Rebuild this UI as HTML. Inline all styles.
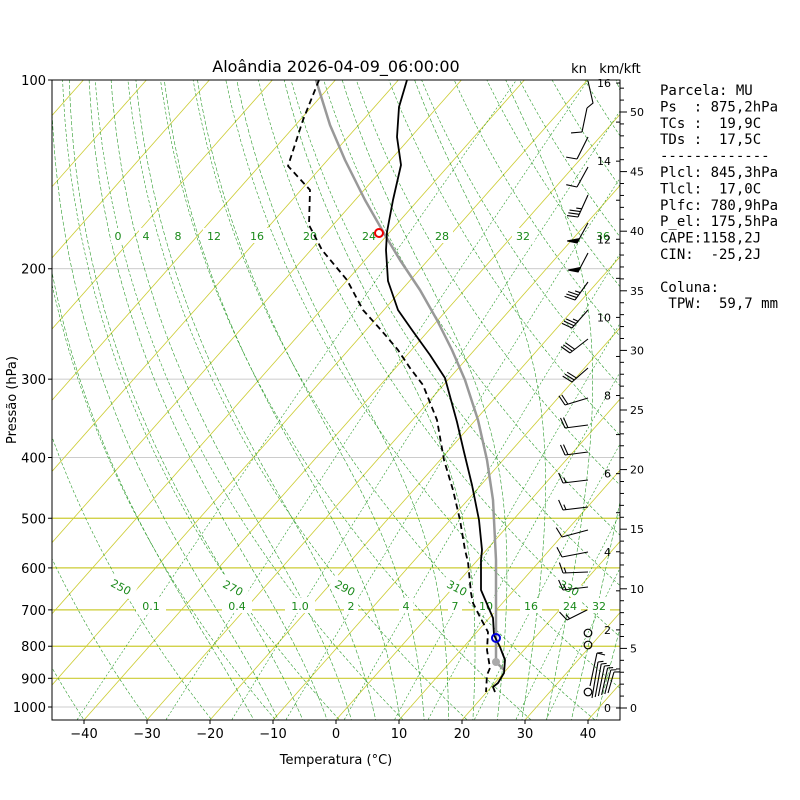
<!DOCTYPE html>
<html><head><meta charset="utf-8"><style>
html,body{margin:0;padding:0;background:#fff;width:800px;height:800px;overflow:hidden}
svg text{font-family:"DejaVu Sans","Liberation Sans",sans-serif}
</style></head><body>
<svg id="s" width="800" height="800" xmlns="http://www.w3.org/2000/svg">
<defs><clipPath id="c"><rect x="52" y="80" width="568" height="640"/></clipPath></defs>
<g id="bg" clip-path="url(#c)"></g>
<g id="lab" clip-path="url(#c)"></g>
<g id="snd" clip-path="url(#c)" fill="none" stroke-linejoin="round">
<polyline stroke="#999" stroke-width="2.5" points="316,80 330,125 345,160 365,200 385,235 400,260 420,290 437,320 452,350 465,380 478,420 487,460 493,500 496,560 496,660 498,664 504,670"/>
<circle cx="496" cy="662" r="4" fill="#aaa" stroke="none"/>
<polyline stroke="#000" stroke-width="1.8" points="407,80 399,107 397,137 401,165 393,200 387,232 386,250 388,281 398,310 412,330 430,355 445,378 457,422 464,452 472,485 479,520 482,550 481,560 481,590 493,618 494,635 500,647 505,660 504,673 498,683 493,687 495,692"/>
<polyline stroke="#000" stroke-width="1.8" stroke-dasharray="6,4" points="319,80 303,120 288,166 310,190 309,225 322,250 347,280 363,310 381,330 398,350 410,368 423,385 437,420 444,460 453,490 460,520 465,550 468,562 471,593 473,603 480,617 488,632 487,650 490,668 487,675 486,692"/>
<circle cx="379" cy="233" r="4" stroke="#e00" stroke-width="2"/>
<circle cx="496" cy="638" r="4" stroke="#00d" stroke-width="2"/>
</g>
<g id="barbs" stroke="#000" stroke-width="1.1" fill="none"></g>
<rect x="52" y="80" width="568" height="640" fill="none" stroke="#000" stroke-width="1"/>
<g id="ax" font-size="13" fill="#000"></g>
<text x="336" y="72" font-size="16" text-anchor="middle">Aloândia 2026-04-09_06:00:00</text>
<text x="579" y="73" font-size="13" text-anchor="middle">kn</text>
<text x="620" y="73" font-size="13" text-anchor="middle">km/kft</text>
<text x="336" y="764" font-size="13" text-anchor="middle">Temperatura (°C)</text>
<text transform="translate(16,400) rotate(-90)" font-size="13" text-anchor="middle">Pressão (hPa)</text>
<text x="660" y="95" font-size="14" style="font-family:'DejaVu Sans Mono','Liberation Mono',monospace;white-space:pre"><tspan x="660" dy="0">Parcela: MU</tspan><tspan x="660" dy="16.4">Ps  : 875,2hPa</tspan><tspan x="660" dy="16.4">TCs :  19,9C</tspan><tspan x="660" dy="16.4">TDs :  17,5C</tspan><tspan x="660" dy="16.4">-------------</tspan><tspan x="660" dy="16.4">Plcl: 845,3hPa</tspan><tspan x="660" dy="16.4">Tlcl:  17,0C</tspan><tspan x="660" dy="16.4">Plfc: 780,9hPa</tspan><tspan x="660" dy="16.4">P_el: 175,5hPa</tspan><tspan x="660" dy="16.4">CAPE:1158,2J</tspan><tspan x="660" dy="16.4">CIN:  -25,2J</tspan><tspan x="660" dy="32.8">Coluna:</tspan><tspan x="660" dy="16.4"> TPW:  59,7 mm</tspan></text>
</svg>
<script>
var NS="http://www.w3.org/2000/svg";
function Y(p){return 80+627*Math.log10(p/100);}
function X(T,p){return 336+6.3*T+0.885*(720-Y(p));}
function el(par,tag,a,txt){var e=document.createElementNS(NS,tag);for(var k in a)e.setAttribute(k,a[k]);if(txt!==undefined)e.textContent=txt;par.appendChild(e);return e;}
var bg=document.getElementById('bg'),lab=document.getElementById('lab'),ax=document.getElementById('ax'),bb=document.getElementById('barbs');
function pl(pts,a){a.points=pts.map(function(q){return q[0].toFixed(1)+','+q[1].toFixed(1)}).join(' ');a.fill='none';el(bg,'polyline',a);}
var ps=[];for(var p=1060;p>=95;p-=5)ps.push(p);
[100,200,300,400,1000].forEach(function(p){el(bg,'line',{x1:52,x2:620,y1:Y(p),y2:Y(p),stroke:'#bbb','stroke-width':0.8});});
[500,600,700,800,900].forEach(function(p){el(bg,'line',{x1:52,x2:620,y1:Y(p),y2:Y(p),stroke:'#cccc33','stroke-width':1.2});});
for(var T=-160;T<=50;T+=10){el(bg,'line',{x1:X(T,1060),y1:Y(1060),x2:X(T,95),y2:Y(95),stroke:'#cccc33','stroke-width':0.8});}
for(var th=220;th<=480;th+=10){pl(ps.map(function(p){return [X(th*Math.pow(p/1000,0.2857)-273.15,p),Y(p)]}),{stroke:'#2a9a2a','stroke-width':0.6,'stroke-dasharray':'3,2'});}
function es(tc){return 6.112*Math.exp(17.67*tc/(tc+243.5));}
function dTdp(T,p){var e=es(T-273.15),rs=0.622*e/(p-e),L=2.501e6,Rd=287.04,cp=1005.7;return (Rd*T+L*rs)/(p*(cp+L*L*rs*0.622/(Rd*T*T)));}
for(var tw=-16;tw<=40;tw+=4){var T=tw+273.15,p=1000,up=[[X(tw,1000),Y(1000)]];
 while(p>100){var dp=-5;T+=dTdp(T,p)*dp;p+=dp;up.push([X(T-273.15,p),Y(p)]);}
 T=tw+273.15;p=1000;var dn=[];while(p<1060){T+=dTdp(T,p)*5;p+=5;dn.unshift([X(T-273.15,p),Y(p)]);}
 pl(dn.concat(up),{stroke:'#2a9a2a','stroke-width':0.6,'stroke-dasharray':'4,2'});}
[0.1,0.4,1,2,4,7,10,16,24,32].forEach(function(w){pl([1060,900,800,700,600,500,400,300,200,100].map(function(p){var e=w*p/(622+w),l=Math.log(e/6.112),t=243.5*l/(17.67-l);return [X(t,p),Y(p)]}),{stroke:'#2a9a2a','stroke-width':0.6,'stroke-dasharray':'2,2'});});
function lb(x,y,t,rot){var g=el(lab,'g',{transform:'translate('+x+','+y+')'+(rot?' rotate('+rot+')':'')});el(g,'rect',{x:-t.length*4-3,y:-8,width:t.length*8+6,height:15,fill:'#fff'});el(g,'text',{x:0,y:4,'font-size':11,fill:'#1a8a1a','text-anchor':'middle'},t);}
[[118,'0'],[146,'4'],[178,'8'],[214,'12'],[257,'16'],[310,'20'],[369,'24'],[442,'28'],[523,'32'],[603,'36']].forEach(function(a){lb(a[0],236,a[1]);});
[[151,'0.1'],[237,'0.4'],[300,'1.0'],[351,'2'],[406,'4'],[455,'7'],[486,'10'],[531,'16'],[570,'24'],[599,'32']].forEach(function(a){lb(a[0],606,a[1]);});
[[121,587,'250'],[233,588,'270'],[345,588,'290'],[457,588,'310'],[569,588,'330']].forEach(function(a){lb(a[0],a[1],a[2],28);});
for(var t=-40;t<=40;t+=10){var x=336+6.3*t;el(ax,'line',{x1:x,x2:x,y1:720,y2:724,stroke:'#000'});el(ax,'text',{x:x,y:738,'text-anchor':'middle'},String(t).replace('-','\u2212'));}
[100,200,300,400,500,600,700,800,900,1000].forEach(function(p){el(ax,'line',{x1:48,x2:52,y1:Y(p),y2:Y(p),stroke:'#000'});el(ax,'text',{x:46,y:Y(p)+5,'text-anchor':'end'},String(p));});
el(ax,'line',{x1:620,x2:620,y1:80,y2:720,stroke:'#000'});
for(var k=0;k<=16;k++){var y=708-39.06*k;el(ax,'line',{x1:616,x2:620,y1:y,y2:y,stroke:'#000'});if(k%2==0)el(ax,'text',{x:611,y:y+4,'text-anchor':'end','font-size':11},String(k));}
for(var k=0;k<=52;k++){var y=708-11.92*k;if(y<80)break;var big=k%5==0;el(ax,'line',{x1:620,x2:big?627:624,y1:y,y2:y,stroke:'#000'});if(big)el(ax,'text',{x:630,y:y+4,'font-size':11},String(k));}
function barb(bx,by,tx,ty,n,h,f){el(bb,'line',{x1:bx,y1:by,x2:tx,y2:ty});var dx=tx-bx,dy=ty-by,L=Math.hypot(dx,dy);dx/=L;dy/=L;var px=-dy+0.3*dx,py=dx+0.3*dy,pp=Math.hypot(px,py);px/=pp;py/=pp;var pos=0;
 for(var i=0;i<f;i++){var ax1=tx-dx*pos,ay1=ty-dy*pos;el(bb,'polygon',{points:ax1+','+ay1+' '+(ax1+px*10)+','+(ay1+py*10)+' '+(ax1-dx*5)+','+(ay1-dy*5),fill:'#000'});pos+=6;}
 for(var i=0;i<n;i++){var ax1=tx-dx*pos,ay1=ty-dy*pos;el(bb,'line',{x1:ax1,y1:ay1,x2:ax1+px*11,y2:ay1+py*11});pos+=3;}
 for(var i=0;i<h;i++){var ax1=tx-dx*pos,ay1=ty-dy*pos;el(bb,'line',{x1:ax1,y1:ay1,x2:ax1+px*5.5,y2:ay1+py*5.5});pos+=3;}}
el(bb,'polyline',{points:'588,81 593,103 587,108'});
barb(587,108,582,132,1,0,0);barb(588,137,577,159,1,0,0);barb(588,167,577,187,1,0,0);barb(588,195,578,217,3,1,0);
barb(588,223,577,243,0,0,1);barb(588,253,578,272,0,0,1);barb(588,282,575,300,3,1,0);barb(588,310,572,328,3,1,0);
barb(588,339,570,353,3,0,0);barb(588,368,572,382,3,0,0);barb(588,398,565,405,2,0,0);barb(588,425,565,428,2,0,0);
barb(588,452,565,455,2,0,0);barb(588,480,563,483,1,1,0);barb(588,507,563,510,1,1,0);barb(588,530,562,537,1,0,0);
barb(588,552,562,557,1,0,0);barb(588,572,563,573,1,1,0);barb(588,587,563,590,1,1,0);barb(587,610,567,620,1,1,0);
barb(590,686,597,653,0,1,0);
el(bb,'line',{x1:597,y1:653,x2:605,y2:655});
for(var i=0;i<6;i++){barb(592+3.2*i,698-i,598+3.2*i,662+2*i,0,1,0);}
[[588,633],[588,645],[588,692]].forEach(function(c){el(bb,'circle',{cx:c[0],cy:c[1],r:3.8,'stroke-width':1.2});});
</script>
</body></html>
